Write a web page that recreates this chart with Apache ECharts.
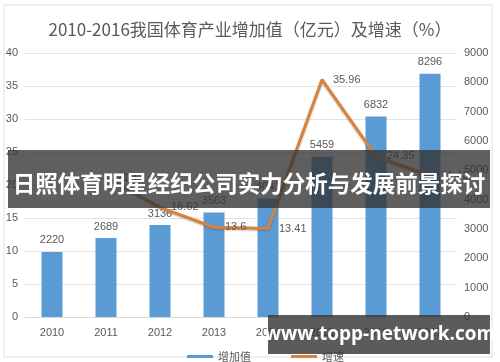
<!DOCTYPE html>
<html><head><meta charset="utf-8">
<script src="https://cdn.jsdelivr.net/npm/echarts@6/dist/echarts.min.js"></script>
<style>html,body{margin:0;padding:0;background:#fff}#c{width:500px;height:362px}</style>
</head><body><div id="c"></div>
<script>
var categories = ['2010','2011','2012','2013','2014','2015','2016','2017'];
var addedValue = [2220, 2689, 3136, 3563, 4041, 5459, 6832, 8296];
var growthRate = [null, 21.12, 16.62, 13.6, 13.41, 35.96, 24.35, 21.43];
var leftTicks = [0, 40, 5];
var rightTicks = [0, 9000, 1000];

var chart = echarts.init(document.getElementById('c'));
var lab = {color:'#595959', fontSize:11, fontFamily:'Liberation Sans, Arial, sans-serif'};
chart.setOption({
  animation:false,
  title:{text:'2010-2016我国体育产业增加值（亿元）及增速（%）', left:'center', top:16,
    textStyle:{color:'#595959', fontSize:17, fontWeight:'normal', fontFamily:'Noto Sans CJK SC, sans-serif'}},
  grid:{left:25, right:43, top:53, bottom:45},
  legend:{top:346, left:182, itemGap:40, itemWidth:26, itemHeight:3,
    textStyle:{color:'#595959', fontSize:11, fontFamily:'Noto Sans CJK SC, sans-serif'},
    data:[{name:'增加值', icon:'rect'},{name:'增速', icon:'rect'}]},
  xAxis:{type:'category', data:categories, axisTick:{show:false},
    axisLine:{show:true, lineStyle:{color:'#d9d9d9'}},
    axisLabel:Object.assign({margin:10}, lab)},
  yAxis:[
    {type:'value', min:leftTicks[0], max:leftTicks[1], interval:leftTicks[2], position:'left',
     axisLabel:Object.assign({margin:7}, lab), axisLine:{show:false}, axisTick:{show:false},
     splitLine:{lineStyle:{color:'#e3e3e3'}}},
    {type:'value', min:rightTicks[0], max:rightTicks[1], interval:rightTicks[2], position:'right',
     axisLabel:Object.assign({margin:7, formatter:function(v){return String(v);}}, lab), axisLine:{show:false}, axisTick:{show:false},
     splitLine:{show:false}}
  ],
  series:[
    {name:'增加值', type:'bar', yAxisIndex:1, data:addedValue, barWidth:21,
     itemStyle:{color:'#5b9bd5'},
     label:{show:true, position:'top', distance:6, color:'#595959', fontSize:11, fontFamily:'Liberation Sans, Arial, sans-serif'}},
    {name:'增速', type:'line', yAxisIndex:0, data:growthRate, symbol:'circle', symbolSize:2, showSymbol:true, connectNulls:false,
     lineStyle:{color:'#d4843f', width:3, shadowColor:'rgba(120,60,20,0.4)', shadowBlur:2, shadowOffsetY:1},
     itemStyle:{color:'#d4843f'},
     labelLayout:{hideOverlap:false},
     label:{show:true, position:'right', distance:10, offset:[0,0], color:'#595959', fontSize:11, fontFamily:'Liberation Sans, Arial, sans-serif',
       formatter:function(p){return p.value==null?'':String(p.value);}}}
  ],
  graphic:[
    {type:'rect', shape:{x:4, y:5, width:488, height:352}, style:{fill:'none', stroke:'#e0e0e0', lineWidth:1}, z:-1},
    {type:'rect', shape:{x:8, y:150, width:482, height:58}, style:{fill:'rgba(50,50,50,0.78)'}, z:100},
    {type:'text', x:249, y:183, style:{text:'日照体育明星经纪公司实力分析与发展前景探讨', fill:'#ffffff',
      font:'bold 22.5px "Noto Sans CJK SC", sans-serif', textAlign:'center', textVerticalAlign:'middle'}, z:101},
    {type:'rect', shape:{x:268, y:315, width:222, height:39}, style:{fill:'rgba(55,55,55,0.82)'}, z:100},
    {type:'text', x:380, y:335, style:{text:'www.topp-network.com', fill:'#ffffff',
      font:'bold 19px "Open Sans", "DejaVu Sans", sans-serif', textAlign:'center', textVerticalAlign:'middle'}, z:101}
  ]
});
</script></body></html>
